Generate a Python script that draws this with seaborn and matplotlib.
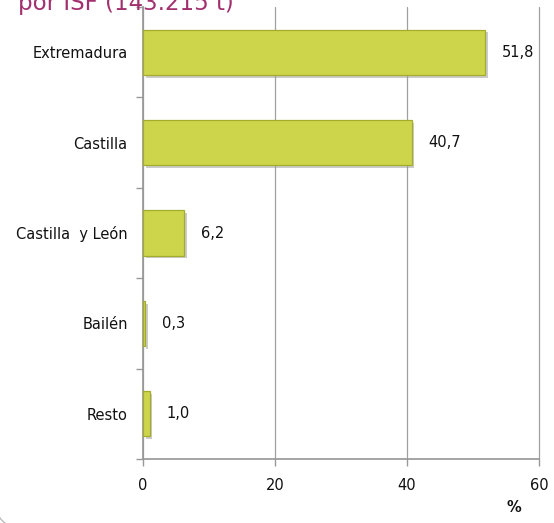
import matplotlib
matplotlib.use("Agg")
import matplotlib.pyplot as plt
import matplotlib.patheffects as pe
import seaborn as sns
import pandas as pd
from matplotlib.patches import Arc

categories = ["Extremadura", "Castilla", "Castilla  y León", "Bailén", "Resto"]
values = [51.8, 40.7, 6.2, 0.3, 1.0]
labels = ["51,8", "40,7", "6,2", "0,3", "1,0"]
xticks = [0, 20, 40, 60]
title = "por ISF (143.215 t)"

df = pd.DataFrame({"region": categories, "pct": values})

sns.set_theme(style="white")
plt.rcParams["font.family"] = ["DejaVu Sans"]

W, H = 554, 523
fig = plt.figure(figsize=(W / 100, H / 100), dpi=100)
ax = fig.add_axes([143 / W, 1 - 459 / H, (539 - 143) / W, (459 - 7) / H])

sns.barplot(data=df, x="pct", y="region", orient="h", color="#CDD64A",
            width=0.5, edgecolor="#A4AC2C", linewidth=0.9, ax=ax, zorder=3,
            saturation=1)

for p in ax.patches:
    p.set_facecolor("#CDD64A")
    p.set_path_effects([pe.SimplePatchShadow(offset=(2, -2), shadow_rgbFace="#999999",
                                             alpha=0.5), pe.Normal()])

ax.set_xlim(0, 60)
ax.set_ylim(4.5, -0.5)
ax.set_xticks(xticks)
ax.set_xticklabels([str(t) for t in xticks], fontsize=10.5, color="#111111")
ax.tick_params(axis="x", direction="out", length=5, width=1, color="#999999",
               pad=9, bottom=True)
ax.set_yticks([i - 0.5 for i in range(6)], minor=True)
ax.set_yticks(range(5))
ax.set_yticklabels(categories, fontsize=10.5, color="#111111")
ax.tick_params(axis="y", which="major", length=0, pad=11)
ax.tick_params(axis="y", which="minor", direction="out", length=5, width=1,
               color="#999999", left=True)
ax.xaxis.grid(True, color="#A0A0A0", linewidth=0.9, zorder=0)
for gl in ax.get_xgridlines():
    gl.set_clip_on(False)
ax.yaxis.grid(False)
for side in ["top", "right"]:
    ax.spines[side].set_visible(False)
ax.spines["left"].set_color("#999999")
ax.spines["bottom"].set_color("#999999")
ax.set_xlabel("")
ax.set_ylabel("")

for i, (v, lab) in enumerate(zip(values, labels)):
    ax.annotate(lab, xy=(v, i), xytext=(12, 0), textcoords="offset points",
                va="center", ha="left", fontsize=10.5, color="#111111")

fig.text(514 / W, 1 - 507 / H, "%", ha="center", va="center", fontsize=10.5,
         color="#111111", fontweight="bold")

fig.text(18 / W, 1 - 10 / H, title, ha="left", va="baseline", fontsize=16.5,
         color="#A3306E")

corner = Arc((0.20, 0.20), 0.5, 0.5, theta1=180, theta2=270,
             transform=fig.dpi_scale_trans, edgecolor="#BBBBBB", linewidth=1)
fig.patches.append(corner)

fig.savefig("out.png", dpi=100)
